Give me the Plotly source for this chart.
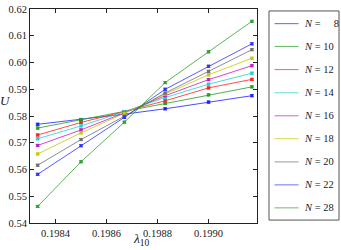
import plotly.graph_objects as go

lam = [0.19833, 0.19850, 0.19867, 0.19883, 0.19900, 0.19917]

sizes = [8, 10, 12, 14, 16, 18, 20, 22, 28]
U = {
    8:  [0.5769, 0.5787, 0.5807, 0.5827, 0.5852, 0.5876],
    10: [0.5755, 0.5786, 0.5816, 0.5847, 0.5879, 0.5909],
    12: [0.5729, 0.5776, 0.5817, 0.5857, 0.5905, 0.5937],
    14: [0.5715, 0.5763, 0.5816, 0.5869, 0.5919, 0.5960],
    16: [0.5690, 0.5748, 0.5812, 0.5876, 0.5936, 0.5988],
    18: [0.5658, 0.5737, 0.5810, 0.5882, 0.5954, 0.6016],
    20: [0.5616, 0.5712, 0.5799, 0.5886, 0.5967, 0.6048],
    22: [0.5582, 0.5689, 0.5795, 0.5900, 0.5986, 0.6070],
    28: [0.5462, 0.5629, 0.5777, 0.5925, 0.6040, 0.6154],
}
err = [0.0004] * 6
colors = ["#2020ff", "#20a020", "#ff2020", "#20d0d0", "#c020c0",
          "#c8c800", "#707070", "#3030ff", "#30a030"]
labels = ["<i>N</i> = \u2007\u20078", "<i>N</i> = 10", "<i>N</i> = 12", "<i>N</i> = 14",
          "<i>N</i> = 16", "<i>N</i> = 18", "<i>N</i> = 20", "<i>N</i> = 22",
          "<i>N</i> = 28"]

xticks = [0.1984, 0.1986, 0.1988, 0.1990]
yticks = [0.54, 0.55, 0.56, 0.57, 0.58, 0.59, 0.60, 0.61, 0.62]

W, H = 341, 250
L, R, T, B = 30, 84, 4, 27
PW, PH = W - L - R, H - T - B

def px_x(p):
    return (p - L) / PW

def px_y(p):
    return (H - B - p) / PH

fig = go.Figure()
for n, c in zip(sizes, colors):
    fig.add_trace(go.Scatter(
        x=lam, y=U[n], mode="lines+markers", showlegend=False,
        line=dict(color=c, width=0.8),
        marker=dict(symbol="square", size=3, color=c),
        error_y=dict(type="data", array=err, color=c, thickness=0.8, width=2),
    ))

serif = "Liberation Serif, DejaVu Serif, serif"
font = dict(family=serif, size=10.5, color="#222")
axis_common = dict(
    showgrid=False, zeroline=False, showline=True, linecolor="#222", linewidth=1,
    mirror="ticks", ticks="inside", ticklen=4, tickwidth=0.8, tickcolor="#222",
    tickfont=font, ticklabeloverflow="allow",
)

shapes = [dict(type="rect", xref="paper", yref="paper",
               x0=px_x(269), x1=px_x(339), y0=px_y(220), y1=px_y(6),
               line=dict(color="#555", width=1), fillcolor="white")]
annotations = []
entry_y = [19, 42.3, 66, 89.7, 113.3, 136.7, 160.5, 184, 207.5]
for yy, c, lab in zip(entry_y, colors, labels):
    shapes.append(dict(type="line", xref="paper", yref="paper",
                       x0=px_x(274.5), x1=px_x(298.5), y0=px_y(yy), y1=px_y(yy),
                       line=dict(color=c, width=1), opacity=0.7))
    annotations.append(dict(text=lab, xref="paper", yref="paper",
                            x=px_x(301.5), y=px_y(yy), xanchor="left", yanchor="middle",
                            showarrow=False, font=dict(family=serif, size=10.5, color="#222")))

annotations.append(dict(text="<i>U</i>", xref="paper", yref="paper",
                        x=px_x(5), y=px_y(98), xanchor="center", yanchor="middle",
                        showarrow=False, font=dict(family=serif, size=13, color="#222")))
annotations.append(dict(text="<i>λ</i><sub>10</sub>", xref="paper", yref="paper",
                        x=px_x(141), y=px_y(240), xanchor="center", yanchor="middle",
                        showarrow=False, font=dict(family=serif, size=13.5, color="#222")))

fig.update_layout(
    width=W, height=H,
    margin=dict(l=L, r=R, t=T, b=B),
    paper_bgcolor="white", plot_bgcolor="white",
    font=font,
    showlegend=False,
    xaxis=dict(range=[0.1983, 0.19919], tickvals=xticks,
               ticktext=[f"{v:.4f}" for v in xticks], **axis_common),
    yaxis=dict(range=[0.54, 0.62001], tickvals=yticks,
               ticktext=[f"{v:.2f}" for v in yticks], **axis_common),
    shapes=shapes,
    annotations=annotations,
)
fig.write_html("out.html", config={"displayModeBar": False},
               post_script="document.body.style.margin='0';")
